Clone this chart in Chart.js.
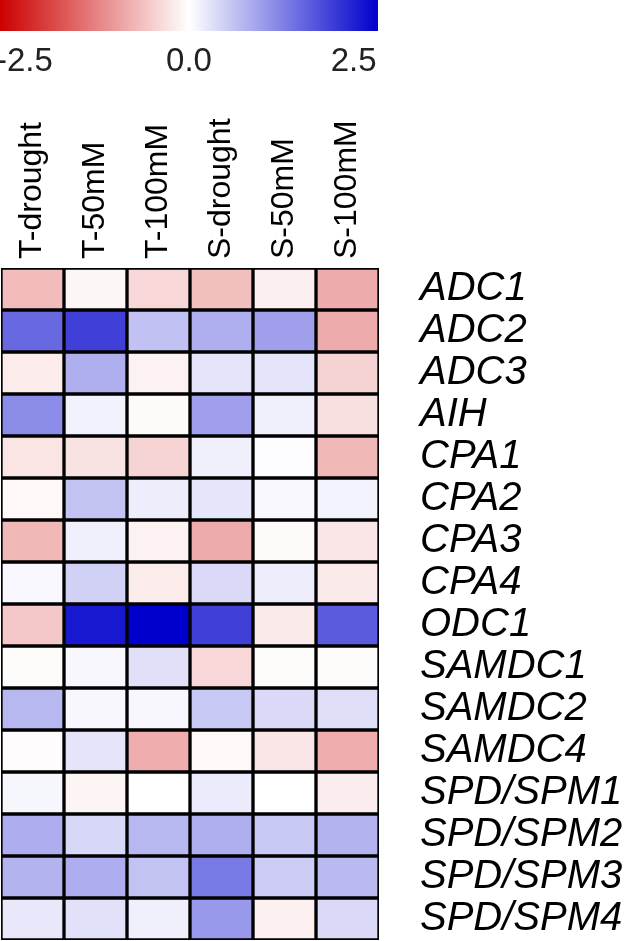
<!DOCTYPE html>
<html><head><meta charset="utf-8">
<script src="https://cdn.jsdelivr.net/npm/chart.js@4/dist/chart.umd.min.js"></script>
<style>
html,body{margin:0;padding:0;background:#fff;}
#wrap{position:relative;width:630px;height:941px;overflow:hidden;background:#fff;}
#heat{position:absolute;left:0;top:0;}
#bar{position:absolute;left:0;top:0;}
</style></head><body>
<div id="wrap">
<canvas id="heat" width="630" height="941"></canvas>
<canvas id="bar" width="378" height="92"></canvas>
</div>
<script>
// ---- data ----
const conditions = ['T-drought', 'T-50mM', 'T-100mM', 'S-drought', 'S-50mM', 'S-100mM'];
const genes = ['ADC1', 'ADC2', 'ADC3', 'AIH', 'CPA1', 'CPA2', 'CPA3', 'CPA4', 'ODC1',
               'SAMDC1', 'SAMDC2', 'SAMDC4', 'SPD/SPM1', 'SPD/SPM2', 'SPD/SPM3', 'SPD/SPM4'];
const ADC1     = [-0.75, -0.10, -0.45, -0.72, -0.18, -0.95];
const ADC2     = [ 1.70,  2.15,  0.70,  0.90,  1.08, -0.95];
const ADC3     = [-0.22,  0.90, -0.15,  0.30,  0.30, -0.50];
const AIH      = [ 1.30,  0.15, -0.06,  1.08,  0.17, -0.35];
const CPA1     = [-0.30, -0.33, -0.48,  0.17,  0.02, -0.80];
const CPA2     = [-0.08,  0.68,  0.20,  0.28,  0.08,  0.14];
const CPA3     = [-0.80,  0.17, -0.15, -0.95, -0.06, -0.28];
const CPA4     = [ 0.08,  0.52, -0.22,  0.42,  0.20, -0.24];
const ODC1     = [-0.62,  2.60,  2.87,  2.15, -0.24,  1.85];
const SAMDC1   = [-0.05,  0.09,  0.35, -0.45, -0.05, -0.05];
const SAMDC2   = [ 0.80,  0.09,  0.09,  0.62,  0.42,  0.37];
const SAMDC4   = [-0.03,  0.30, -0.92, -0.08, -0.28, -0.92];
const SPD_SPM1 = [ 0.10, -0.12,  0.00,  0.22,  0.00, -0.20];
const SPD_SPM2 = [ 0.92,  0.45,  0.80,  0.90,  0.62,  0.85];
const SPD_SPM3 = [ 0.85,  0.92,  0.68,  1.50,  0.57,  0.78];
const SPD_SPM4 = [ 0.26,  0.34,  0.17,  1.15, -0.17,  0.42];
const scaleMin = -2.87;
const scaleMax = 2.87;
const colorbarTicks = [-2.5, 0, 2.5];

const rows = [ADC1, ADC2, ADC3, AIH, CPA1, CPA2, CPA3, CPA4, ODC1,
              SAMDC1, SAMDC2, SAMDC4, SPD_SPM1, SPD_SPM2, SPD_SPM3, SPD_SPM4];

// ---- colour map ----
const LOW = [204, 0, 0], MID = [255, 255, 255], HIGH = [0, 0, 204];
function colorFor(v) {
  let t = Math.max(-1, Math.min(1, v / scaleMax));
  const end = t < 0 ? LOW : HIGH;
  t = Math.abs(t);
  const c = MID.map((m, k) => Math.round(m + (end[k] - m) * t));
  return `rgb(${c[0]},${c[1]},${c[2]})`;
}

const FONT = 'Liberation Sans, Arial, sans-serif';
function noPad(s) { s.paddingLeft = 0; s.paddingRight = 0; s.paddingTop = 0; s.paddingBottom = 0; }

// ---- heatmap ----
new Chart(document.getElementById('heat'), {
  type: 'bar',
  data: {
    labels: conditions,
    datasets: rows.map((vals, i) => ({
      label: genes[i],
      data: vals.map(() => [i, i + 1]),
      backgroundColor: vals.map(colorFor),
      borderColor: '#000',
      borderWidth: 2,
      borderSkipped: false,
      grouped: false,
      barPercentage: 1,
      categoryPercentage: 1
    }))
  },
  options: {
    responsive: false,
    animation: false,
    layout: { padding: { bottom: 1, left: 1, top: 0, right: 0 } },
    plugins: { legend: { display: false }, tooltip: { enabled: false } },
    scales: {
      x: {
        type: 'category',
        position: 'top',
        grid: { display: false, drawTicks: false },
        border: { display: false },
        ticks: { minRotation: 90, maxRotation: 90, autoSkip: false, padding: 9,
                 labelOffset: 38,
                 color: '#000', font: { family: FONT, size: 32 } },
        afterFit: s => { s.height = 268; noPad(s); }
      },
      y: {
        type: 'linear',
        position: 'right',
        reverse: true,
        min: 0,
        max: genes.length,
        grid: { display: false, drawTicks: false },
        border: { display: false },
        afterBuildTicks: s => { s.ticks = genes.map((g, i) => ({ value: i + 0.5 })); },
        ticks: { autoSkip: false, padding: 41, color: '#000',
                 callback: v => genes[Math.floor(v)],
                 font: { family: FONT, size: 40, style: 'italic' } },
        afterFit: s => { s.width = 251; noPad(s); }
      }
    }
  }
});

// ---- colour bar ----
new Chart(document.getElementById('bar'), {
  type: 'bar',
  data: {
    labels: ['scale'],
    datasets: [{
      data: [[scaleMin, scaleMax]],
      backgroundColor: ctx => {
        const ca = ctx.chart.chartArea;
        if (!ca) return '#fff';
        const g = ctx.chart.ctx.createLinearGradient(ca.left, 0, ca.right, 0);
        g.addColorStop(0, colorFor(scaleMin));
        g.addColorStop(0.5, colorFor(0));
        g.addColorStop(1, colorFor(scaleMax));
        return g;
      },
      borderWidth: 0,
      barPercentage: 1,
      categoryPercentage: 1
    }]
  },
  options: {
    indexAxis: 'y',
    responsive: false,
    animation: false,
    layout: { padding: 0 },
    plugins: { legend: { display: false }, tooltip: { enabled: false } },
    scales: {
      x: {
        type: 'linear',
        min: scaleMin,
        max: scaleMax,
        grid: { display: false, drawTicks: false },
        border: { display: false },
        afterBuildTicks: s => { s.ticks = colorbarTicks.map(v => ({ value: v })); },
        ticks: { padding: 11, color: '#222', callback: v => v.toFixed(1),
                 font: { family: FONT, size: 33 } },
        afterFit: s => { s.height = 61; noPad(s); }
      },
      y: { display: false }
    }
  }
});
</script>
</body></html>
